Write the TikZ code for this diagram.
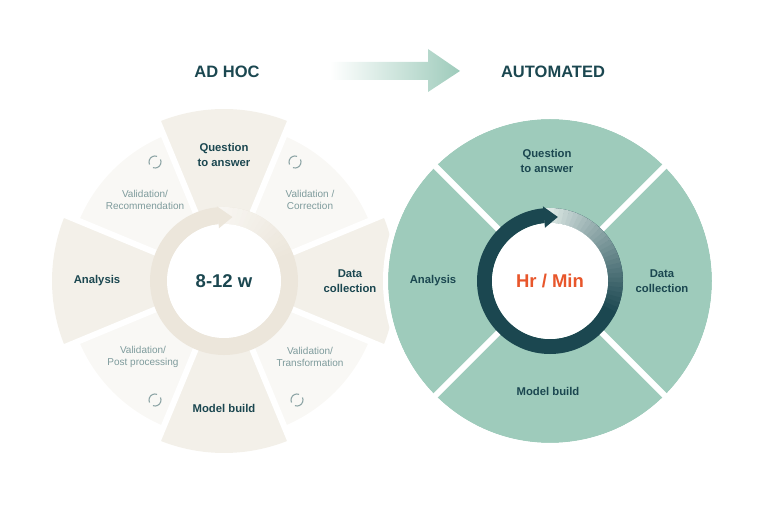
\documentclass[tikz,border=0pt]{standalone}
\usepackage{fontspec}
\setmainfont{Liberation Sans}
\usepackage{xcolor}
\usepackage{tikz}

\definecolor{darkteal}{HTML}{1B4750}
\definecolor{beigemain}{HTML}{F3F0E9}
\definecolor{beigeval}{HTML}{F9F8F5}
\definecolor{beigering}{HTML}{ECE6DB}
\definecolor{beigelight}{HTML}{F8F6F2}
\definecolor{ringlight}{HTML}{E4EFEB}
\definecolor{seagreen}{HTML}{9ECBBB}
\definecolor{valtext}{HTML}{7E9B9C}
\definecolor{spincol}{HTML}{8FA6A7}
\definecolor{hrorange}{HTML}{E8562B}

\begin{document}
\begin{tikzpicture}[x=1pt, y=1pt,
        heading/.style={font=\bfseries\fontsize{16.5}{18}\selectfont, text=darkteal},
        phase/.style={font=\bfseries\fontsize{11.3}{15}\selectfont, text=darkteal, align=center},
        check/.style={font=\fontsize{10}{12.5}\selectfont, text=valtext, align=center},
        span/.style={font=\bfseries\fontsize{18.5}{20}\selectfont},
        gap/.style={white, line width=6pt},
        spin/.style={draw=spincol, line width=1.1pt}
    ]
        \useasboundingbox (0,0) rectangle (768,514);
        \coordinate (lc) at (224,233);
        \coordinate (rc) at (550,233);

        % ad hoc wheel
        \foreach \a in {0,90,180,270}
            \fill[beigemain] (lc) -- ++(\a-22.5:172) arc[start angle=\a-22.5, end angle=\a+22.5, radius=172] -- cycle;
        \foreach \a in {45,135,225,315}
            \fill[beigeval] (lc) -- ++(\a-22.5:157) arc[start angle=\a-22.5, end angle=\a+22.5, radius=157] -- cycle;
        \foreach \a in {22.5,67.5,...,337.5}
            \draw[gap] (lc) -- ++(\a:180);
        \draw[beigering, line width=17pt] (lc) circle[radius=65.5];
        \foreach \i in {0,...,18} {
            \pgfmathsetmacro{\s}{95-4*\i}
            \pgfmathsetmacro{\p}{100*\i/18}
            \draw[beigering!\p!beigelight, line width=17pt] ([shift={(\s:65.5)}]lc) arc[start angle=\s, end angle=\s-4.6, radius=65.5];
        }
        \fill[white] (lc) circle[radius=57];
        \fill[beigering] ([shift={(95.4:75)}]lc) -- ([shift={(95.4:53)}]lc) -- ([shift={(82.5:64.5)}]lc) -- cycle;

        % automated wheel
        \fill[seagreen] (rc) circle[radius=162];
        \draw[white, line width=5pt] (rc) circle[radius=164.5];
        \foreach \a in {45,135,225,315}
            \draw[gap] (rc) -- ++(\a:164);
        \draw[darkteal, line width=15pt] (rc) circle[radius=65.5];
        \foreach \i in {0,...,30} {
            \pgfmathsetmacro{\s}{95-4*\i}
            \pgfmathsetmacro{\p}{100*(\i/30)^0.9}
            \draw[darkteal!\p!ringlight, line width=15pt] ([shift={(\s:65.5)}]rc) arc[start angle=\s, end angle=\s-4.6, radius=65.5];
        }
        \fill[white] (rc) circle[radius=58];
        \fill[darkteal] ([shift={(95.4:75)}]rc) -- ([shift={(95.4:53.5)}]rc) -- ([shift={(83:64.5)}]rc) -- cycle;

        % headings
        \node[heading] (adhoc) at (227,442) {AD HOC};
        \node[heading] (auto) at (553,442) {AUTOMATED};
        \shade[left color=white, right color=seagreen] (330,434) -- (428,434) -- (428,422) -- (460,443) -- (428,465) -- (428,452) -- (330,452) -- cycle;

        % ad hoc labels
        \node[span, text=darkteal] (weeks) at (lc) {8-12 w};
        \node[phase] (lquestion) at (224,359) {Question\\to answer};
        \node[phase] (ldata) at (350,233) {Data\\collection};
        \node[phase] (lmodel) at (224,106) {Model build};
        \node[phase] (lanalysis) at (97,233) {Analysis};
        \node[check] (vcorr) at (310,314) {Validation /\\Correction};
        \node[check] (vtrans) at (310,157) {Validation/\\Transformation};
        \node[check] (vpost) at (143,157) {Validation/\\Post processing};
        \node[check] (vrec) at (145,314) {Validation/\\Recommendation};

        \coordinate (spin1) at (295,352);
        \coordinate (spin2) at (155,352);
        \coordinate (spin3) at (155,114);
        \coordinate (spin4) at (297,114);
        \foreach \c in {spin1,spin2,spin3,spin4} {
            \draw[spin] ([shift={(70:6)}]\c) arc[start angle=70, end angle=205, radius=6];
            \draw[spin] ([shift={(250:6)}]\c) arc[start angle=250, end angle=385, radius=6];
        }

        % automated labels
        \node[span, text=hrorange] (hours) at (rc) {Hr / Min};
        \node[phase] (rquestion) at (547,353) {Question\\to answer};
        \node[phase] (rdata) at (662,233) {Data\\collection};
        \node[phase] (rmodel) at (548,123) {Model build};
        \node[phase] (ranalysis) at (433,233) {Analysis};
    \end{tikzpicture}
\end{document}
